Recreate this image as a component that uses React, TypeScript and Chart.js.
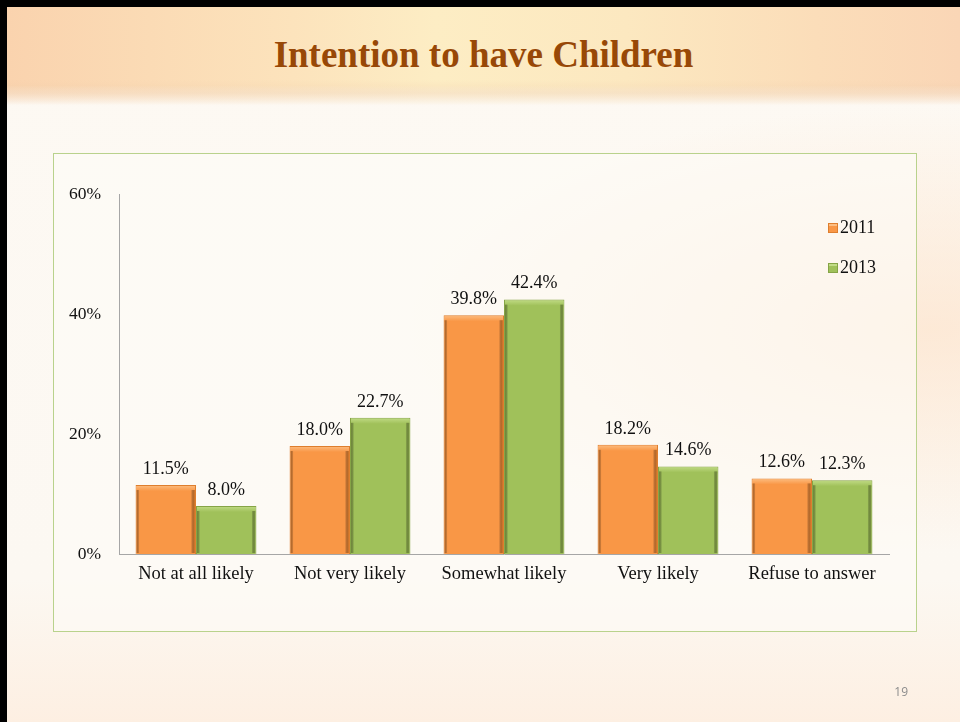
import React, { useEffect, useRef } from "react";
import { Chart, registerables } from "chart.js";

Chart.register(...registerables);

const categories = ["Not at all likely", "Not very likely", "Somewhat likely", "Very likely", "Refuse to answer"];
const seriesLabels = ["2011", "2013"];
const values2011 = [11.5, 18.0, 39.8, 18.2, 12.6];
const values2013 = [8.0, 22.7, 42.4, 14.6, 12.3];
const yTickValues = [0, 20, 40, 60];
const titleText = "Intention to have Children";
const pageNumber = "19";

const SERIF = "'Liberation Serif', 'Times New Roman', serif";
const fills = ["#F99746", "#A0C15A"];
const borders = ["#DE7E2E", "#86A446"];
const lights = ["#FDBE82", "#C2DC86"];
const darks = ["#E27F2C", "#86A446"];

const bevelPlugin = {
  id: "bevel",
  afterDatasetsDraw(chart: any) {
    const ctx = chart.ctx;
    chart.data.datasets.forEach((_ds: any, di: number) => {
      const meta = chart.getDatasetMeta(di);
      meta.data.forEach((bar: any) => {
        const { x, y, base, width } = bar.getProps(["x", "y", "base", "width"], true);
        const l = x - width / 2;
        const r = x + width / 2;
        ctx.save();
        let g = ctx.createLinearGradient(0, y, 0, y + 6);
        g.addColorStop(0, lights[di]);
        g.addColorStop(1, fills[di]);
        ctx.fillStyle = g;
        ctx.fillRect(l + 1, y + 1, width - 2, 6);
        g = ctx.createLinearGradient(l, 0, l + 4, 0);
        g.addColorStop(0, darks[di]);
        g.addColorStop(1, "rgba(0,0,0,0)");
        ctx.fillStyle = g;
        ctx.fillRect(l + 1, y + 5, 4, base - y - 6);
        g = ctx.createLinearGradient(r - 5, 0, r - 1, 0);
        g.addColorStop(0, "rgba(0,0,0,0)");
        g.addColorStop(1, darks[di]);
        ctx.fillStyle = g;
        ctx.fillRect(r - 5, y + 5, 4, base - y - 6);
        ctx.restore();
      });
    });
  },
};

const dataLabelPlugin = {
  id: "dataLabels",
  afterDatasetsDraw(chart: any) {
    const ctx = chart.ctx;
    ctx.save();
    ctx.font = `18px ${SERIF}`;
    ctx.fillStyle = "#111111";
    ctx.textAlign = "center";
    ctx.textBaseline = "middle";
    chart.data.datasets.forEach((ds: any, di: number) => {
      const meta = chart.getDatasetMeta(di);
      meta.data.forEach((bar: any, i: number) => {
        const { x, y } = bar.getProps(["x", "y"], true);
        ctx.fillText(`${Number(ds.data[i]).toFixed(1)}%`, x, y - 16);
      });
    });
    ctx.restore();
  },
};

const legendPlugin = {
  id: "customLegend",
  afterDraw(chart: any) {
    const ctx = chart.ctx;
    const area = chart.chartArea;
    ctx.save();
    ctx.font = `18px ${SERIF}`;
    ctx.textAlign = "left";
    ctx.textBaseline = "middle";
    chart.data.datasets.forEach((ds: any, di: number) => {
      const mx = area.right - 61;
      const my = area.top + 34 + di * 40;
      ctx.fillStyle = fills[di];
      ctx.fillRect(mx, my - 5, 10, 10);
      ctx.strokeStyle = borders[di];
      ctx.lineWidth = 1;
      ctx.strokeRect(mx + 0.5, my - 4.5, 9, 9);
      ctx.fillStyle = lights[di];
      ctx.fillRect(mx + 1, my - 4, 8, 2);
      ctx.fillStyle = "#111111";
      ctx.fillText(ds.label, mx + 12, my);
    });
    ctx.restore();
  },
};

function BarChart() {
  const ref = useRef<HTMLCanvasElement | null>(null);
  useEffect(() => {
    if (!ref.current) return;
    const chart = new Chart(ref.current, {
      type: "bar",
      data: {
        labels: categories,
        datasets: [
          {
            label: seriesLabels[0],
            data: values2011,
            backgroundColor: fills[0],
            borderColor: borders[0],
            borderWidth: 1,
          },
          {
            label: seriesLabels[1],
            data: values2013,
            backgroundColor: fills[1],
            borderColor: borders[1],
            borderWidth: 1,
          },
        ],
      },
      options: {
        animation: false,
        responsive: false,
        maintainAspectRatio: false,
        layout: { padding: { left: 0, top: 194, right: 71, bottom: 128 } },
        datasets: { bar: { categoryPercentage: 0.785, barPercentage: 1.0 } },
        plugins: { legend: { display: false }, tooltip: { enabled: false }, title: { display: false } },
        scales: {
          x: {
            grid: { display: false, drawTicks: false },
            border: { display: true, color: "#A6A6A6", width: 1 },
            ticks: { color: "#111111", font: { family: SERIF, size: 18.5 }, padding: 9, maxRotation: 0, autoSkip: false },
            afterFit: (s: any) => {
              s.height = 40;
            },
          },
          y: {
            min: yTickValues[0],
            max: yTickValues[yTickValues.length - 1],
            grid: { display: false, drawTicks: false },
            border: { display: true, color: "#A6A6A6", width: 1 },
            afterBuildTicks: (s: any) => {
              s.ticks = yTickValues.map((v) => ({ value: v }));
            },
            ticks: {
              color: "#111111",
              font: { family: SERIF, size: 17.5 },
              padding: 18,
              callback: (v: any) => `${v}%`,
            },
            afterFit: (s: any) => {
              s.width = 119;
            },
          },
        },
      },
      plugins: [bevelPlugin, dataLabelPlugin, legendPlugin],
    });
    return () => chart.destroy();
  }, []);
  return <canvas ref={ref} width={960} height={722} style={{ position: "absolute", left: 0, top: 0, width: 960, height: 722 }} />;
}

export default function App() {
  return (
    <div style={{ position: "fixed", left: 0, top: 0, width: 960, height: 722, overflow: "hidden", background: "#000" }}>
      <div
        style={{
          position: "absolute",
          left: 7,
          top: 7,
          width: 953,
          height: 715,
          background:
            "radial-gradient(ellipse at 97% 45%, rgba(253,228,205,0.75) 0%, rgba(253,228,205,0) 40%), linear-gradient(180deg, #FDF9F3 0%, #FCF8F2 80%, #FDEFE2 100%)",
        }}
      />
      <div
        style={{
          position: "absolute",
          left: 7,
          top: 7,
          width: 953,
          height: 98,
          background:
            "linear-gradient(180deg, rgba(253,249,243,0) 0%, rgba(253,249,243,0) 80%, rgba(253,249,243,1) 100%), linear-gradient(90deg, #FAD3AE 0%, #FCE3BC 30%, #FDEDC4 45%, #FCE8C0 65%, #FBDDB9 85%, #FAD6B6 100%)",
        }}
      />
      <div
        style={{
          position: "absolute",
          left: 7,
          top: 80,
          width: 953,
          height: 26,
          background: "linear-gradient(180deg, rgba(240,205,170,0) 0%, rgba(238,204,170,0.35) 50%, rgba(253,249,243,0) 100%)",
        }}
      />
      <div
        style={{
          position: "absolute",
          left: 7,
          top: 33,
          width: 953,
          textAlign: "center",
          fontFamily: SERIF,
          fontWeight: "bold",
          fontSize: 37,
          lineHeight: "44px",
          color: "#984807",
        }}
      >
        {titleText}
      </div>
      <div
        style={{
          position: "absolute",
          left: 53,
          top: 153,
          width: 862,
          height: 477,
          border: "1px solid #B9D28C",
          background: "rgba(253,251,247,0.6)",
        }}
      />
      <BarChart />
      <div
        style={{
          position: "absolute",
          left: 860,
          top: 683,
          width: 48,
          textAlign: "right",
          fontFamily: "'Open Sans', 'Liberation Sans', sans-serif",
          fontSize: 12,
          lineHeight: "18px",
          color: "#8C8C8C",
        }}
      >
        {pageNumber}
      </div>
    </div>
  );
}
